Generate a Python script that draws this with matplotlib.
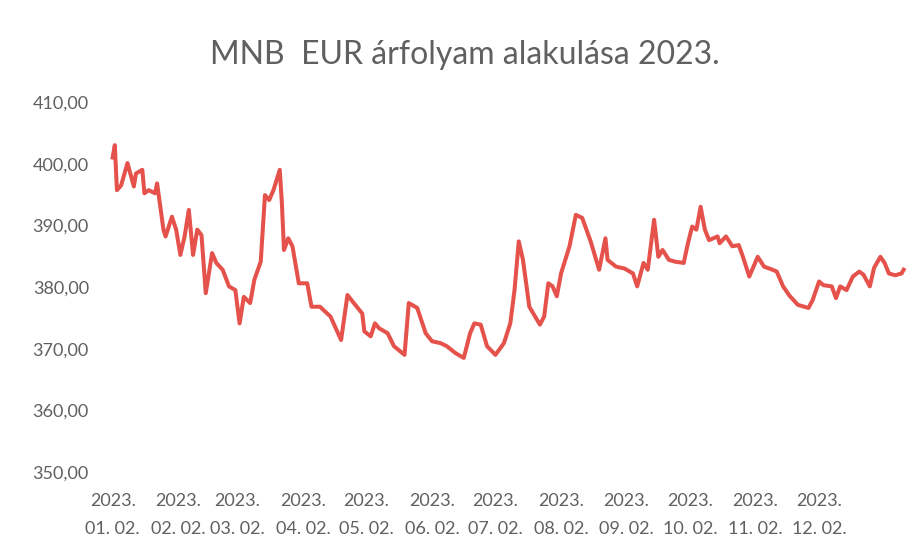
import matplotlib
matplotlib.use("Agg")
import matplotlib.pyplot as plt
import matplotlib.dates as mdates
import numpy as np
import datetime as dt

title = "MNB  EUR árfolyam alakulása 2023."
start_date = dt.date(2023, 1, 2)

# days after 2023-01-02 and EUR/HUF rate
day = [0, 1, 2, 4, 7, 10, 11, 14, 15, 17, 20, 21, 24, 25, 28, 30, 32, 34, 36, 38,
       40, 42, 44, 47, 49, 52, 55, 58, 60, 62, 65, 67, 70, 72, 74, 76, 79, 80, 81, 83,
       85, 88, 92, 94, 98, 103, 108, 111, 114, 118, 119, 122, 124, 126, 130, 133, 138, 140, 144, 148,
       151, 155, 158, 162, 166, 169, 171, 174, 177, 181, 185, 188, 190, 192, 194, 197, 202, 204, 206, 208,
       210, 212, 213, 216, 219, 222, 226, 230, 233, 234, 238, 242, 246, 248, 251, 253, 256, 258, 260, 263,
       266, 270, 272, 274, 276, 278, 280, 282, 286, 287, 290, 293, 296, 298, 301, 305, 308, 312, 314, 317,
       320, 324, 329, 331, 334, 336, 340, 342, 344, 347, 350, 353, 355, 358, 360, 363, 365, 367, 370, 373, 374]
rate = [401.0, 403.0, 395.7, 396.5, 400.1, 396.3, 398.4, 399.0, 395.2, 395.7, 395.2, 396.8, 389.3, 388.2, 391.4, 389.3, 385.2, 388.2, 392.5, 385.2,
        389.3, 388.4, 379.0, 385.5, 383.9, 382.8, 380.1, 379.5, 374.1, 378.4, 377.4, 381.2, 384.1, 394.9, 394.1, 395.7, 399.0, 393.6, 386.0, 387.9,
        386.6, 380.6, 380.6, 376.8, 376.8, 375.2, 371.4, 378.7, 377.4, 375.7, 372.8, 372.0, 374.1, 373.3, 372.5, 370.4, 369.0, 377.4, 376.6, 372.5,
        371.2, 370.9, 370.4, 369.3, 368.5, 372.5, 374.1, 373.9, 370.4, 369.0, 370.9, 374.1, 379.5, 387.4, 384.4, 376.8, 373.9, 375.2, 380.6, 380.1,
        378.5, 382.2, 383.3, 386.6, 391.7, 391.2, 387.4, 382.8, 387.9, 384.4, 383.3, 383.0, 382.2, 380.1, 383.9, 382.8, 390.9, 384.9, 386.0, 384.4,
        384.1, 383.9, 387.1, 389.8, 389.3, 393.0, 389.3, 387.6, 388.2, 387.1, 388.2, 386.6, 386.8, 384.9, 381.7, 384.9, 383.3, 382.8, 382.5, 380.1,
        378.6, 377.1, 376.6, 377.9, 380.9, 380.3, 380.1, 378.2, 380.1, 379.5, 381.7, 382.5, 382.0, 380.1, 383.1, 384.9, 383.9, 382.2, 381.9, 382.2, 382.8]

tick_dates = [dt.date(2023, m, 2) for m in range(1, 13)]
tick_labels = [f"{d.year}.\n{d.month:02d}. {d.day:02d}." for d in tick_dates]
y_ticks = [350, 360, 370, 380, 390, 400, 410]

dates = [start_date + dt.timedelta(days=d) for d in day]

W, H = 922, 556
fig = plt.figure(figsize=(W / 100, H / 100), dpi=100)
plt.rcParams['font.family'] = ['Lato', 'DejaVu Sans']

left_px, right_px, top_px, bot_px = 100, 910, 102, 472
ax = fig.add_axes([left_px / W, 1 - bot_px / H, (right_px - left_px) / W, (bot_px - top_px) / H])

ax.plot(dates, rate, color='#E5524B', linewidth=2.9, solid_joinstyle='round')

px_per_day = 2.114
ax.set_xlim(start_date - dt.timedelta(days=(113 - left_px) / px_per_day),
            start_date + dt.timedelta(days=(right_px - 113) / px_per_day))
ax.set_ylim(350, 410)

ax.set_xticks(tick_dates)
ax.set_xticklabels(tick_labels, fontsize=13, color='#606060', linespacing=1.95)
ax.set_yticks(y_ticks)
ax.set_yticklabels([f"{v:.2f}".replace('.', ',') for v in y_ticks], fontsize=13, color='#606060')
ax.tick_params(axis='both', length=0)
ax.tick_params(axis='y', pad=8)
ax.tick_params(axis='x', pad=15)
for s in ax.spines.values():
    s.set_visible(False)

fig.text(465 / W, 1 - 55 / H, title, ha='center', va='center', fontsize=23, color='#606060')

fig.savefig('out.png', dpi=100)
